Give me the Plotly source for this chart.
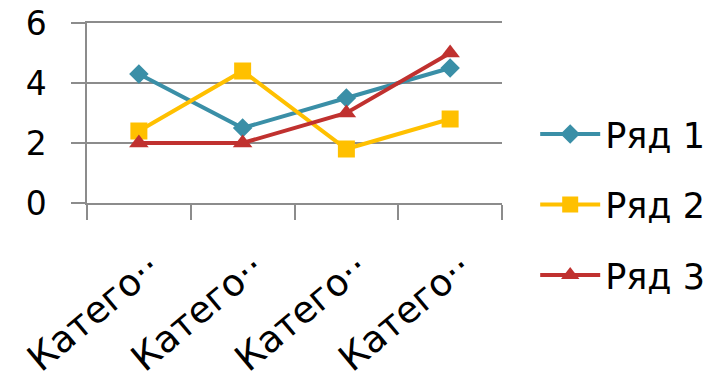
import plotly.graph_objects as go

categories = ["Категория 1", "Категория 2", "Категория 3", "Категория 4"]
tick_labels = ["Катего··", "Катего··", "Катего··", "Катего··"]
series_names = ["Ряд 1", "Ряд 2", "Ряд 3"]
row1 = [4.3, 2.5, 3.5, 4.5]
row2 = [2.4, 4.4, 1.8, 2.8]
row3 = [2, 2, 3, 5]
y_ticks = [0, 2, 4, 6]

colors = ["#3A8FA7", "#FFC000", "#C0312F"]
symbols = ["diamond", "square", "triangle-up"]
marker_sizes = [15, 17, 17]

FONT = "DejaVu Sans"
GRID = "#8C8C8C"

fig = go.Figure()
for name, vals, col, sym, ms in zip(series_names, [row1, row2, row3], colors, symbols, marker_sizes):
    fig.add_trace(go.Scatter(
        x=categories, y=vals, name=name, legendgroup=name, mode="lines+markers",
        line=dict(color=col, width=4),
        marker=dict(symbol=sym, size=ms, color=col),
    ))

fig.update_layout(
    width=727, height=383,
    margin=dict(l=87, r=225, t=23, b=180, autoexpand=False),
    plot_bgcolor="white", paper_bgcolor="white",
    font=dict(family=FONT, color="black"),
    legend=dict(
        x=1.08, xanchor="left", y=-0.01, yanchor="middle",
        font=dict(size=35, family=FONT, color="black"),
        itemwidth=60, tracegroupgap=22, maxheight=383,
    ),
    showlegend=True,
)

fig.update_xaxes(
    type="category", categoryorder="array", categoryarray=categories,
    tickmode="array", tickvals=categories, ticktext=tick_labels,
    tickson="boundaries", ticks="outside", ticklen=15, tickwidth=1.5, tickcolor=GRID,
    showgrid=False, showline=True, mirror=True, linecolor=GRID, linewidth=1.5, zeroline=False,
    tickangle=-40, tickfont=dict(size=37, family=FONT, color="black"),
    ticklabelshift=12, ticklabelstandoff=26, automargin=False,
    range=[-0.5, 3.5],
)
fig.update_yaxes(
    range=[0, 6], tickvals=y_ticks, ticks="outside", ticklen=14, tickwidth=1.5, tickcolor=GRID,
    showgrid=True, gridcolor=GRID, gridwidth=1.5,
    showline=True, linecolor=GRID, linewidth=1.5, zeroline=False,
    tickfont=dict(size=33, family=FONT, color="black"),
    ticklabelstandoff=18, automargin=False,
)

fig.write_html("out.html")
